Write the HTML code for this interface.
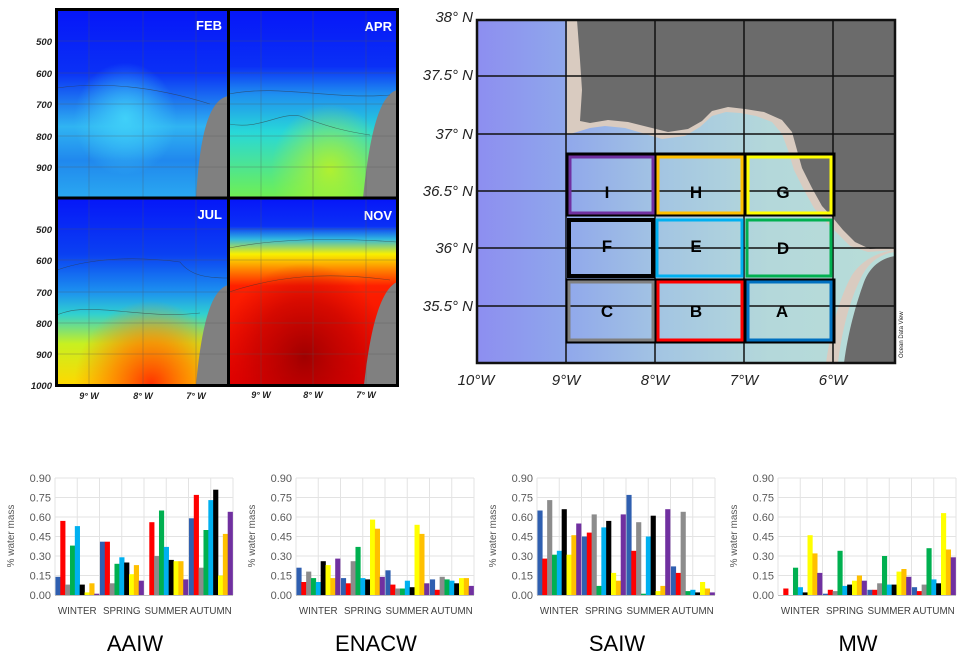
<!DOCTYPE html>
<html><head><meta charset="utf-8"><style>
body{margin:0;background:#fff;width:966px;height:657px;overflow:hidden;font-family:"Liberation Sans",sans-serif}
svg{position:absolute;left:0;top:0}
</style></head><body>
<svg id="fig" width="966" height="657" viewBox="0 0 966 657">
<defs>
<linearGradient id="gFeb" x1="0" y1="0" x2="0" y2="1"><stop offset="0" stop-color="#0616f8"/><stop offset="0.33" stop-color="#0a30f6"/><stop offset="0.5" stop-color="#1f7ef0"/><stop offset="0.62" stop-color="#30b4f2"/><stop offset="0.8" stop-color="#2088ee"/><stop offset="1" stop-color="#2aa8f0"/></linearGradient>
<linearGradient id="gApr" x1="0" y1="0" x2="0" y2="1"><stop offset="0" stop-color="#0616f8"/><stop offset="0.3" stop-color="#0a30f6"/><stop offset="0.45" stop-color="#1f90f0"/><stop offset="0.65" stop-color="#28d8d8"/><stop offset="1" stop-color="#70f050"/></linearGradient>
<linearGradient id="gJul" x1="0" y1="0" x2="0" y2="1"><stop offset="0" stop-color="#0616f8"/><stop offset="0.3" stop-color="#0a40f2"/><stop offset="0.5" stop-color="#1c90f0"/><stop offset="0.62" stop-color="#30d0d0"/><stop offset="0.78" stop-color="#c8f020"/><stop offset="1" stop-color="#ffd800"/></linearGradient>
<radialGradient id="rJul" cx="0.55" cy="1" r="0.45"><stop offset="0" stop-color="#ff3000"/><stop offset="0.5" stop-color="#ff8000" stop-opacity="0.8"/><stop offset="1" stop-color="#ff9000" stop-opacity="0"/></radialGradient>
<linearGradient id="gNov" x1="0" y1="0" x2="0" y2="1"><stop offset="0" stop-color="#0616f8"/><stop offset="0.15" stop-color="#0a30f6"/><stop offset="0.22" stop-color="#30b8e0"/><stop offset="0.3" stop-color="#f8f000"/><stop offset="0.38" stop-color="#ff8800"/><stop offset="0.47" stop-color="#ff2000"/><stop offset="1" stop-color="#e00000"/></linearGradient>
<radialGradient id="rNov" cx="0.45" cy="0.85" r="0.5"><stop offset="0" stop-color="#a00000"/><stop offset="0.6" stop-color="#c00000" stop-opacity="0.6"/><stop offset="1" stop-color="#d00000" stop-opacity="0"/></radialGradient>
<radialGradient id="rFeb" cx="0.4" cy="0.58" r="0.3"><stop offset="0" stop-color="#40d0f8"/><stop offset="1" stop-color="#40d0f8" stop-opacity="0"/></radialGradient>
<radialGradient id="rApr" cx="0.6" cy="0.85" r="0.35"><stop offset="0" stop-color="#b0f030"/><stop offset="1" stop-color="#b0f030" stop-opacity="0"/></radialGradient>
<linearGradient id="gSea" x1="0" y1="0" x2="1" y2="0"><stop offset="0" stop-color="#8d8ef0"/><stop offset="0.2" stop-color="#8fa6ec"/><stop offset="0.45" stop-color="#a4c6e2"/><stop offset="0.7" stop-color="#b4d8da"/><stop offset="1" stop-color="#b8ddd8"/></linearGradient>
</defs>

<g>
<g>
<rect x="57" y="10" width="171" height="188" fill="url(#gFeb)"/>
<rect x="57" y="10" width="171" height="188" fill="url(#rFeb)"/>
<path d="M228,96 C210,100 200,130 196,198 L228,198Z" fill="#808080"/>
<path d="M57,88 C100,82 150,85 210,104" fill="none" stroke="#333" stroke-width="0.6" opacity="0.6"/>
<text x="222" y="30" font-size="13" font-weight="bold" fill="#fff" text-anchor="end">FEB</text>
</g>
<g>
<rect x="229" y="10" width="168" height="188" fill="url(#gApr)"/>
<rect x="229" y="10" width="168" height="188" fill="url(#rApr)"/>
<path d="M397,90 C380,95 370,130 363,198 L397,198Z" fill="#808080"/>
<path d="M229,94 C280,84 330,100 390,95" fill="none" stroke="#333" stroke-width="0.6" opacity="0.6"/>
<path d="M229,124 C260,130 280,112 300,116 C330,128 350,132 370,135" fill="none" stroke="#333" stroke-width="0.6" opacity="0.6"/>
<text x="392" y="31" font-size="13" font-weight="bold" fill="#fff" text-anchor="end">APR</text>
</g>
<g>
<rect x="57" y="198" width="171" height="187" fill="url(#gJul)"/>
<rect x="57" y="198" width="171" height="187" fill="url(#rJul)"/>
<path d="M228,285 C212,290 202,320 196,385 L228,385Z" fill="#808080"/>
<path d="M57,270 C100,255 150,258 180,262 C190,275 205,278 228,278" fill="none" stroke="#333" stroke-width="0.6" opacity="0.6"/>
<path d="M57,315 C90,300 140,320 200,313" fill="none" stroke="#333" stroke-width="0.6" opacity="0.6"/>
<text x="222" y="219" font-size="13" font-weight="bold" fill="#fff" text-anchor="end">JUL</text>
</g>
<g>
<rect x="229" y="198" width="168" height="187" fill="url(#gNov)"/>
<rect x="229" y="198" width="168" height="187" fill="url(#rNov)"/>
<path d="M397,282 C380,290 370,330 364,385 L397,385Z" fill="#808080"/>
<path d="M229,248 C280,238 340,238 397,242" fill="none" stroke="#333" stroke-width="0.6" opacity="0.6"/>
<path d="M229,292 C280,275 330,272 390,280" fill="none" stroke="#333" stroke-width="0.6" opacity="0.6"/>
<text x="392" y="220" font-size="13" font-weight="bold" fill="#fff" text-anchor="end">NOV</text>
</g>
<g stroke="#555" stroke-width="0.5" opacity="0.6">
<line x1="89" y1="10" x2="89" y2="385"/><line x1="143" y1="10" x2="143" y2="385"/><line x1="196" y1="10" x2="196" y2="385"/>
<line x1="261" y1="10" x2="261" y2="385"/><line x1="313" y1="10" x2="313" y2="385"/><line x1="366" y1="10" x2="366" y2="385"/>
<line x1="57" y1="41" x2="397" y2="41"/><line x1="57" y1="73" x2="397" y2="73"/><line x1="57" y1="104" x2="397" y2="104"/><line x1="57" y1="136" x2="397" y2="136"/><line x1="57" y1="167" x2="397" y2="167"/>
<line x1="57" y1="229" x2="397" y2="229"/><line x1="57" y1="260" x2="397" y2="260"/><line x1="57" y1="292" x2="397" y2="292"/><line x1="57" y1="323" x2="397" y2="323"/><line x1="57" y1="354" x2="397" y2="354"/>
</g>
<rect x="56.5" y="9.5" width="341" height="376" fill="none" stroke="#000" stroke-width="3"/>
<line x1="228.5" y1="9" x2="228.5" y2="386" stroke="#000" stroke-width="3"/>
<line x1="56" y1="198" x2="398" y2="198" stroke="#000" stroke-width="3"/>
<g font-size="9.5" font-weight="bold" font-style="italic" fill="#222" text-anchor="end">
<text x="52" y="45">500</text><text x="52" y="77">600</text><text x="52" y="108">700</text><text x="52" y="140">800</text><text x="52" y="171">900</text>
<text x="52" y="233">500</text><text x="52" y="264">600</text><text x="52" y="296">700</text><text x="52" y="327">800</text><text x="52" y="358">900</text><text x="52" y="389">1000</text>
</g>
<g font-size="9" font-weight="bold" font-style="italic" fill="#222" text-anchor="middle">
<text x="89" y="399">9° W</text><text x="143" y="399">8° W</text><text x="196" y="399">7° W</text>
<text x="261" y="398">9° W</text><text x="313" y="398">8° W</text><text x="366" y="398">7° W</text>
</g>
</g>

<g>
<rect x="477" y="20" width="418" height="343" fill="url(#gSea)"/>
<path d="M567,20 L895,20 L895,250 L868,252 L850,246 L838,234 L826,222 L814,208 L804,190 L794,170 L788,150 L782,134 L772,122 L756,116 L740,113 L726,112 L712,116 L700,127 L685,136 L662,139 L642,133 L625,128 L605,126 L590,128 L567,135 Z" fill="#d9cbc0"/>
<path d="M577,20 L895,20 L895,247 L870,249 L855,242 L843,230 L833,218 L822,206 L812,188 L802,168 L797,150 L792,132 L782,120 L764,112 L745,109 L728,107 L712,111 L702,121 L688,129 L668,132 L648,127 L628,122 L608,120 L590,123 L580,121 L582,90 L580,60 Z" fill="#6b6b6b"/>
<path d="M895,252 C880,254 868,262 860,280 C850,300 842,330 838,363 L826,363 C830,335 838,300 852,275 C862,260 878,252 895,250Z" fill="#d9cbc0"/>
<path d="M895,256 C882,258 870,266 864,282 C856,304 848,332 844,363 L895,363Z" fill="#6b6b6b"/>
<g stroke="#111" stroke-width="1.5">
<line x1="566" y1="20" x2="566" y2="363"/><line x1="655" y1="20" x2="655" y2="363"/><line x1="744" y1="20" x2="744" y2="363"/><line x1="833" y1="20" x2="833" y2="363"/>
<line x1="477" y1="76" x2="895" y2="76"/><line x1="477" y1="134" x2="895" y2="134"/><line x1="477" y1="191" x2="895" y2="191"/><line x1="477" y1="248" x2="895" y2="248"/><line x1="477" y1="306" x2="895" y2="306"/>
</g>
<rect x="477" y="20" width="418" height="343" fill="none" stroke="#111" stroke-width="2.5"/>
<g fill="none" stroke-width="3">
<rect x="567" y="154" width="88" height="61" stroke="#000"/><rect x="656" y="154" width="88" height="61" stroke="#000"/><rect x="746" y="154" width="88" height="61" stroke="#000"/>
<rect x="570" y="157" width="83" height="56" stroke="#7030a0"/>
<rect x="658" y="157" width="84" height="56" stroke="#ffc000"/>
<rect x="748" y="157" width="83" height="56" stroke="#ffff00"/>
<rect x="569" y="220" width="84" height="56" stroke="#000" stroke-width="4"/>
<rect x="657" y="220" width="85" height="56" stroke="#00b0f0"/>
<rect x="747" y="220" width="84" height="56" stroke="#00b050"/>
<rect x="567" y="280" width="88" height="62" stroke="#000"/><rect x="656" y="280" width="88" height="62" stroke="#000"/><rect x="746" y="280" width="88" height="62" stroke="#000"/>
<rect x="569" y="282" width="84" height="58" stroke="#808080"/>
<rect x="658" y="282" width="84" height="58" stroke="#ff0000"/>
<rect x="748" y="282" width="83" height="58" stroke="#0070c0"/>
</g>
<g font-size="17" font-weight="bold" fill="#000" text-anchor="middle">
<text x="607" y="198">I</text><text x="696" y="198">H</text><text x="783" y="198">G</text>
<text x="607" y="252">F</text><text x="696" y="252">E</text><text x="783" y="254">D</text>
<text x="607" y="317">C</text><text x="696" y="317">B</text><text x="782" y="317">A</text>
</g>
<g font-size="15" font-style="italic" fill="#222" text-anchor="end">
<text x="473" y="22">38° N</text><text x="473" y="80">37.5° N</text><text x="473" y="139">37° N</text><text x="473" y="196">36.5° N</text><text x="473" y="253">36° N</text><text x="473" y="311">35.5° N</text>
</g>
<g font-size="15" font-style="italic" fill="#222" text-anchor="middle">
<text x="476" y="385">10°W</text><text x="566" y="385">9°W</text><text x="655" y="385">8°W</text><text x="744" y="385">7°W</text><text x="833" y="385">6°W</text>
</g>
<text x="0" y="0" font-size="6" fill="#222" transform="translate(903,358) rotate(-90)">Ocean Data View</text>
</g>

<g id="charts"></g>
</svg>
<script>
var seasons = ["WINTER","SPRING","SUMMER","AUTUMN"];
var yTicks = [0,0.15,0.30,0.45,0.60,0.75,0.90];
var yTickLabels = ["0.00","0.15","0.30","0.45","0.60","0.75","0.90"];
var regions = ["A","B","C","D","E","F","G","H","I"];
var regionColors = ["#2f5fb0","#ff0000","#8c8c8c","#00b050","#00b0f0","#000000","#ffff00","#ffc000","#7030a0"];
var chartTitles = ["AAIW","ENACW","SAIW","MW"];
var aaiw = [[0.14,0.57,0.08,0.38,0.53,0.08,0.02,0.09,0.01],[0.41,0.41,0.09,0.24,0.29,0.25,0.16,0.23,0.11],[0.00,0.56,0.30,0.65,0.37,0.27,0.26,0.26,0.12],[0.59,0.77,0.21,0.50,0.73,0.81,0.15,0.47,0.64]];
var enacw = [[0.21,0.10,0.18,0.13,0.10,0.26,0.23,0.13,0.28],[0.13,0.09,0.26,0.37,0.13,0.12,0.58,0.51,0.14],[0.19,0.08,0.05,0.05,0.11,0.06,0.54,0.47,0.09],[0.12,0.04,0.14,0.12,0.11,0.09,0.13,0.13,0.07]];
var saiw = [[0.65,0.28,0.73,0.31,0.34,0.66,0.31,0.46,0.55],[0.45,0.48,0.62,0.07,0.52,0.57,0.17,0.11,0.62],[0.77,0.34,0.56,0.01,0.45,0.61,0.03,0.07,0.66],[0.22,0.17,0.64,0.03,0.04,0.02,0.10,0.05,0.02]];
var mw = [[0.00,0.05,0.00,0.21,0.06,0.02,0.46,0.32,0.17],[0.01,0.04,0.03,0.34,0.07,0.08,0.11,0.15,0.11],[0.04,0.04,0.09,0.30,0.08,0.08,0.18,0.20,0.14],[0.06,0.03,0.08,0.36,0.12,0.09,0.63,0.35,0.29]];

var chartData = [aaiw, enacw, saiw, mw];
var plotLefts = [55,296,537,778];
var NS = "http://www.w3.org/2000/svg";
var root = document.getElementById("charts");
function mk(tag, attrs, parent){var e=document.createElementNS(NS,tag);for(var k in attrs)e.setAttribute(k,attrs[k]);parent.appendChild(e);return e;}
var PW = 178, Y0 = 595, Y1 = 478, YMAX = 0.9;
function yScale(v){return Y0-(v/YMAX)*(Y0-Y1);}
chartData.forEach(function(data, ci){
  var L = plotLefts[ci];
  var gw = PW/seasons.length;
  function xScale(si, ri){return L+si*gw+gw*0.01+ri*(gw*0.98/regions.length);}
  var g = mk("g",{},root);
  
  
  yTicks.forEach(function(t,i){
    if(i>0){var ln=mk("line",{x1:L,x2:L+PW,y1:yScale(t),y2:yScale(t),stroke:"#e3e3e3","stroke-width":1},g);
    
    }
    var tx=mk("text",{x:L-4,y:yScale(t)+4,"font-size":11,fill:"#595959","text-anchor":"end"},g);
    
    
    tx.textContent=yTickLabels[i];
  });
  for(var k=0;k<=seasons.length*2;k++){
    var vx=L+k*gw/2;
    var vl=mk("line",{x1:vx,x2:vx,y1:Y1,y2:Y0,stroke:"#e3e3e3","stroke-width":1},g);
    
    
  }
  var yt=mk("text",{x:0,y:0,"font-size":10,fill:"#595959","text-anchor":"middle",transform:"translate("+(L-41)+",536) rotate(-90)"},g);
  
  
  yt.textContent="% water mass";
  data.forEach(function(vals, si){
    vals.forEach(function(v, ri){
      var r=mk("rect",{x:xScale(si,ri),y:yScale(v),width:gw*0.98/regions.length+0.3,height:Y0-yScale(v),fill:regionColors[ri]},g);
      
      
    });
    var sl=mk("text",{x:L+si*gw+gw/2,y:614,"font-size":9.8,fill:"#404040","text-anchor":"middle"},g);
    
    
    sl.textContent=seasons[si];
  });
  var ax=mk("line",{x1:L,x2:L+PW,y1:Y0+0.5,y2:Y0+0.5,stroke:"#bfbfbf","stroke-width":1},g);
  
  
  var tt=mk("text",{x:L+80,y:651,"font-size":22,fill:"#000","text-anchor":"middle"},g);
  
  
  tt.textContent=chartTitles[ci];
});
</script>
</body></html>
